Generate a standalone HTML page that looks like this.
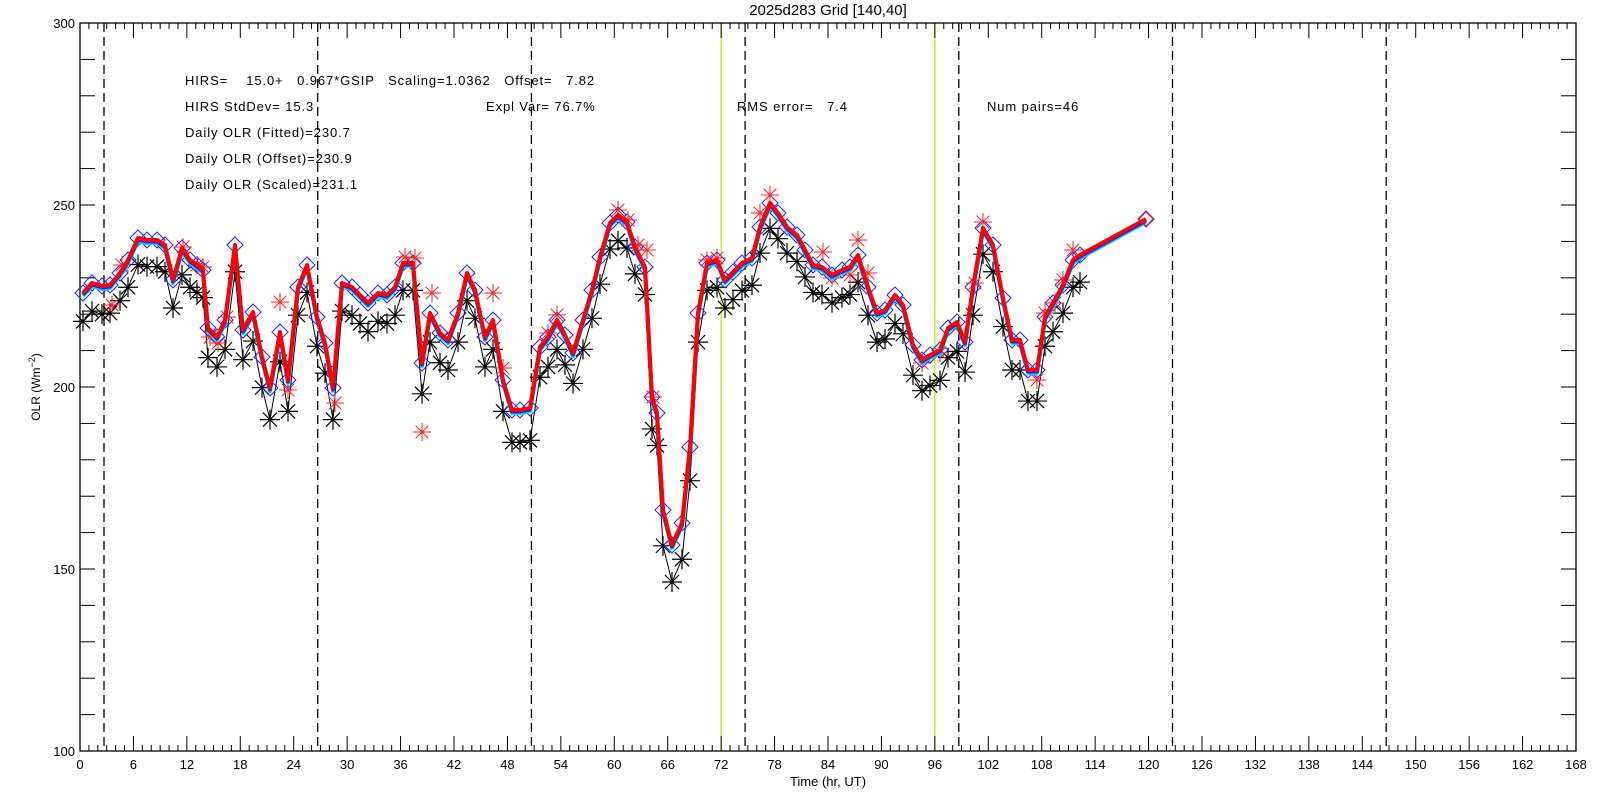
<!DOCTYPE html>
<html><head><meta charset="utf-8">
<style>
html,body{margin:0;padding:0;background:#fff;}
svg{display:block;}
text{font-family:"Liberation Sans",sans-serif;fill:#000;}
</style></head>
<body>
<svg id="s" width="1600" height="800" xmlns="http://www.w3.org/2000/svg">
<rect width="1600" height="800" fill="#fff"/>
<g id="g"></g>
<text x="828" y="15" font-size="15" text-anchor="middle">2025d283 Grid [140,40]</text>
<g font-size="13" letter-spacing="0.9">
<text x="185" y="85" xml:space="preserve">HIRS=    15.0+   0.967*GSIP   Scaling=1.0362   Offset=   7.82</text>
<text x="185" y="111">HIRS StdDev= 15.3</text>
<text x="486" y="111">Expl Var= 76.7%</text>
<text x="737" y="111" xml:space="preserve">RMS error=   7.4</text>
<text x="987" y="111">Num pairs=46</text>
<text x="185" y="137">Daily OLR (Fitted)=230.7</text>
<text x="185" y="163">Daily OLR (Offset)=230.9</text>
<text x="185" y="189">Daily OLR (Scaled)=231.1</text>
</g>
<text x="828" y="786" font-size="13" text-anchor="middle">Time (hr, UT)</text>
<text transform="translate(40,387) rotate(-90)" font-size="12" text-anchor="middle">OLR (Wm<tspan dy="-5" font-size="9">−2</tspan><tspan dy="5">)</tspan></text>
</svg>
<script>
var g=document.getElementById('g'),NS='http://www.w3.org/2000/svg';
function el(t,a){var e=document.createElementNS(NS,t);for(var k in a)e.setAttribute(k,a[k]);g.appendChild(e);return e;}
var L=80,Rt=1576,T=23,B=751,px=(Rt-L)/168;
function yv(v){return T+(300-v)*(B-T)/200;}
function vy(y){return 300-(y-T)*200/(B-T);}
[72,96].forEach(function(h){var x=L+h*px;el('line',{x1:x,x2:x,y1:T,y2:B,stroke:'#b8f000','stroke-width':1.3});});
for(var i=0;i<7;i++){var x=104+i*213.7;el('line',{x1:x,x2:x,y1:T,y2:B,stroke:'#000','stroke-width':1.3,'stroke-dasharray':'9,5'});}
el('rect',{x:L,y:T,width:Rt-L,height:B-T,fill:'none',stroke:'#000','stroke-width':1.3});
for(var h=0;h<=168;h++){var x=L+h*px,len=h%6==0?15:6;
el('line',{x1:x,x2:x,y1:B,y2:B-len,stroke:'#000','stroke-width':1});
el('line',{x1:x,x2:x,y1:T,y2:T+len,stroke:'#000','stroke-width':1});
if(h%6==0){var t=el('text',{x:x,y:B+18,'font-size':13,'text-anchor':'middle'});t.textContent=h;}}
for(var v=100;v<=300;v+=10){var y=yv(v);
el('line',{x1:L,x2:L+15,y1:y,y2:y,stroke:'#000','stroke-width':1});
el('line',{x1:Rt,x2:Rt-15,y1:y,y2:y,stroke:'#000','stroke-width':1});
if(v%50==0){var t=el('text',{x:L-5,y:y+5,'font-size':13,'text-anchor':'end'});t.textContent=v;}}
var R=[[83,293],[92,283],[102,286],[110,285],[120,273],[128,260],[138,238],[147,240],[157,240],[165,245],[173,280],[182,248],[190,260],[197,265],[203,270],[208,328],[217,337],[225,320],[235,245],[243,330],[253,312],[262,357],[270,388],[280,332],[288,380],[298,287],[307,265],[317,317],[325,343],[333,388],[342,283],[352,287],[360,295],[368,303],[378,293],[387,295],[395,287],[403,263],[413,263],[422,363],[430,313],[440,333],[448,340],[458,313],[467,273],[475,290],[485,337],[493,320],[503,380],[512,410],[520,410],[530,408],[540,347],[548,337],[557,320],[565,335],[573,353],[583,320],[592,290],[600,257],[610,223],[618,215],[627,222],[635,247],[645,267],[652,397],[657,413],[663,510],[672,545],[682,523],[690,447],[698,313],[707,263],[717,260],[725,280],[733,272],[742,263],[752,258],[760,227],[770,203],[778,213],[787,227],[797,235],[805,250],[813,265],[822,267],[832,275],[842,270],[850,267],[858,255],[868,287],[877,313],[885,310],[895,295],[903,305],[913,345],[922,360],[930,355],[940,350],[948,328],[957,322],[965,342],[973,287],[983,228],[993,245],[1003,298],[1012,340],[1020,340],[1028,370],[1037,370],[1045,317],[1053,303],[1063,285],[1073,260],[1080,255],[1146,219]];
function pts(a,dy){return a.map(function(p){return p[0]+','+(p[1]+dy);}).join(' ');}
function star(x,y,r,c,w){var d='';for(var k=0;k<4;k++){var a=k*Math.PI/4,dx=r*Math.cos(a),dy=r*Math.sin(a);d+='M'+(x-dx)+' '+(y-dy)+'L'+(x+dx)+' '+(y+dy);}el('path',{d:d,stroke:c,'stroke-width':w,fill:'none'});}
var Bk=R.slice(0,R.length-1).map(function(p){var v=vy(p[1]);return [p[0],yv((v-15)/0.967)];});
el('polyline',{points:pts(Bk,0),fill:'none',stroke:'#000','stroke-width':1});
Bk.forEach(function(p){star(p[0],p[1],10,'#000',1.2);});
R.forEach(function(p){el('path',{d:'M'+p[0]+' '+(p[1]-8)+'l8 8l-8 8l-8-8z',fill:'none',stroke:'#2020ff','stroke-width':1});});
var RS=[[112,305],[122,265],[183,247],[197,265],[203,267],[210,337],[218,343],[227,317],[280,302],[288,390],[335,403],[405,257],[415,258],[422,432],[432,293],[493,293],[503,368],[548,333],[557,315],[618,210],[628,220],[638,245],[647,250],[653,397],[707,260],[717,258],[760,213],[770,195],[823,252],[832,278],[850,275],[858,240],[868,273],[922,363],[940,353],[975,283],[983,222],[1037,380],[1045,313],[1055,303],[1063,280],[1073,250]];
RS.forEach(function(p){star(p[0],p[1],9,'#ff2020',1);});
el('polyline',{points:pts(R,3),fill:'none',stroke:'#00e0f0','stroke-width':4,'stroke-linejoin':'round'});
el('polyline',{points:pts(R,1.5),fill:'none',stroke:'#2020ff','stroke-width':4,'stroke-linejoin':'round'});
el('polyline',{points:pts(R,0),fill:'none',stroke:'#ff0000','stroke-width':4,'stroke-linejoin':'round'});
var lp=R[R.length-1];el('path',{d:'M'+lp[0]+' '+(lp[1]-7)+'l7 7l-7 7l-7-7z',fill:'none',stroke:'#ff2020','stroke-width':1});
</script>
</body></html>
